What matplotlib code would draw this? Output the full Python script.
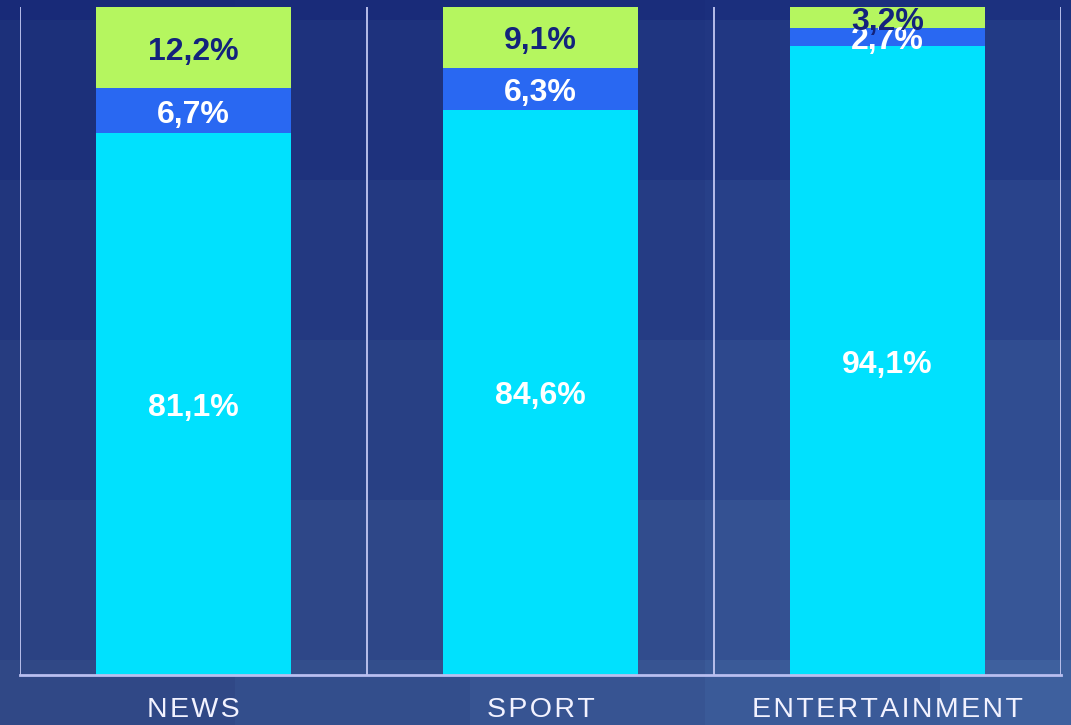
import numpy as np
import matplotlib.pyplot as plt

categories = ['NEWS', 'SPORT', 'ENTERTAINMENT']
bottom_share = [81.1, 84.6, 94.1]
middle_share = [6.7, 6.3, 2.7]
top_share = [12.2, 9.1, 3.2]

c_bottom = '#00e1fe'
c_middle = '#2968f2'
c_top = '#b5f65f'

plt.rcParams['font.family'] = ['Liberation Sans', 'DejaVu Sans']

fig = plt.figure(figsize=(10.71, 7.25), dpi=100)

# stepped blue gradient background
bg = fig.add_axes([0, 0, 1, 1])
yy, xx = np.mgrid[0:725, 0:1071]
ys = np.floor((yy + 140) / 160) / 5.0
xs = np.floor(xx / 235) / 4.0
top = np.array([24, 42, 120])
dy = np.array([24, 30, 14])
dx = np.array([14, 24, 24])
img = top[None, None, :] + ys[..., None] * dy + xs[..., None] * dx * (0.3 + 0.7 * ys[..., None])
bg.imshow(np.clip(img, 0, 255).astype(np.uint8), aspect='auto', interpolation='nearest')
bg.axis('off')

ax = fig.add_axes([20 / 1071, 50 / 725, 1041 / 1071, 668 / 725])
ax.patch.set_alpha(0)

x = np.arange(len(categories))
w = 0.56
b1 = np.array(bottom_share)
b2 = b1 + np.array(middle_share)
ax.bar(x, bottom_share, w, color=c_bottom)
ax.bar(x, middle_share, w, bottom=b1, color=c_middle)
ax.bar(x, top_share, w, bottom=b2, color=c_top)

def lab(v):
    return ('%.1f%%' % v).replace('.', ',')

off = 0.6  # labels sit slightly below the segment middle
for i in range(len(categories)):
    ax.text(x[i], b1[i] / 2 - off, lab(bottom_share[i]),
            ha='center', va='center', color='white', fontsize=23, fontweight='bold')
    ax.text(x[i], b1[i] + middle_share[i] / 2 - off, lab(middle_share[i]),
            ha='center', va='center', color='white', fontsize=23, fontweight='bold')
    ax.text(x[i], b2[i] + top_share[i] / 2 - off, lab(top_share[i]),
            ha='center', va='center', color='#13237c', fontsize=23, fontweight='bold')

for s in [-0.5, 0.5, 1.5, 2.5]:
    ax.axvline(s, color='#c3c8f2', linewidth=1.3, zorder=0)

ax.set_xlim(-0.5, 2.5)
ax.set_ylim(0, 100)
for sp in ['top', 'left', 'right']:
    ax.spines[sp].set_visible(False)
ax.spines['bottom'].set_color('#b9bff0')
ax.spines['bottom'].set_linewidth(2)
ax.set_yticks([])
ax.set_xticks(x)
ax.set_xticklabels(['\u200a'.join(c) for c in categories], fontsize=20.5, color='#f2f2ff')
ax.tick_params(axis='x', length=0, pad=16)

fig.savefig('out.png', dpi=100)
